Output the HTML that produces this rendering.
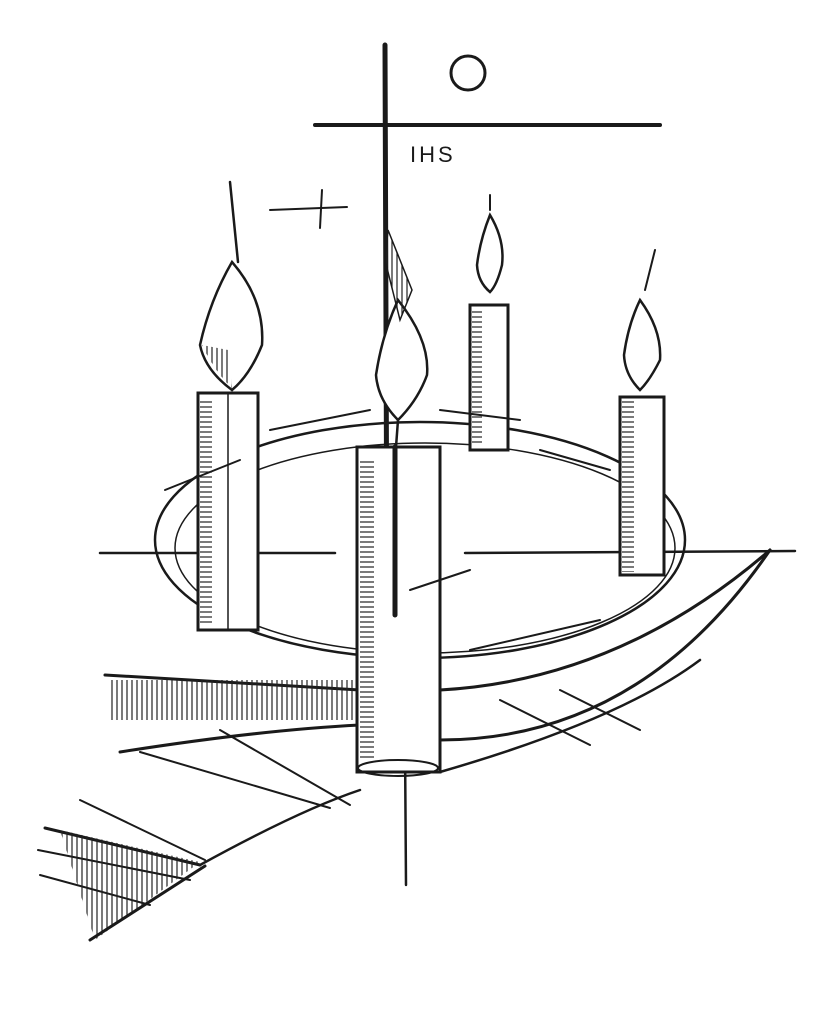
<!DOCTYPE html>
<html><head><meta charset="utf-8"><style>
html,body{margin:0;padding:0;background:#fff;}
svg{display:block}
</style></head><body>
<svg width="818" height="1023" viewBox="0 0 818 1023" xmlns="http://www.w3.org/2000/svg">
<defs>
<pattern id="h" width="5" height="5" patternUnits="userSpaceOnUse"><line x1="2" y1="0" x2="2" y2="5" stroke="#222" stroke-width="1.2"/></pattern>
<pattern id="hh" width="5" height="5" patternUnits="userSpaceOnUse"><line x1="0" y1="2" x2="5" y2="2" stroke="#222" stroke-width="1.2"/></pattern>
</defs>
<g fill="none" stroke="#1a1a1a" stroke-linecap="round">
<!-- cross -->
<line x1="385" y1="45" x2="387" y2="610" stroke-width="5"/>
<line x1="404" y1="600" x2="406" y2="885" stroke-width="2.5"/>
<line x1="315" y1="125" x2="660" y2="125" stroke-width="4"/>
<circle cx="468" cy="73" r="17" stroke-width="3"/>
<!-- star -->
<line x1="270" y1="210" x2="347" y2="207" stroke-width="2"/>
<line x1="322" y1="190" x2="320" y2="228" stroke-width="2"/>
<!-- ellipse ring -->
<ellipse cx="420" cy="540" rx="265" ry="118" stroke-width="2.5"/>
<ellipse cx="425" cy="548" rx="250" ry="105" stroke-width="1.5"/>
<!-- horizon -->
<line x1="100" y1="553" x2="335" y2="553" stroke-width="2.5"/>
<line x1="465" y1="553" x2="795" y2="551" stroke-width="2.5"/>
<!-- band -->
<path d="M105 675 L360 690" stroke-width="3"/>
<path d="M440 690 Q620 680 770 550" stroke-width="3"/>
<rect x="110" y="680" width="245" height="40" fill="url(#h)" stroke="none"/>
<path d="M120 752 Q260 730 360 725" stroke-width="3"/>
<path d="M440 740 Q640 740 770 550" stroke-width="3"/>
<path d="M200 865 Q300 810 360 790 M440 772 Q620 720 700 660" stroke-width="2.5"/>
<line x1="220" y1="730" x2="350" y2="805" stroke-width="2"/>
<line x1="500" y1="700" x2="590" y2="745" stroke-width="2"/>
<line x1="560" y1="690" x2="640" y2="730" stroke-width="2"/>
<line x1="140" y1="752" x2="330" y2="808" stroke-width="2"/>
<!-- bottom left strokes -->
<line x1="45" y1="828" x2="200" y2="865" stroke-width="3"/>
<line x1="38" y1="850" x2="190" y2="880" stroke-width="2"/>
<line x1="40" y1="875" x2="150" y2="905" stroke-width="2"/>
<line x1="80" y1="800" x2="205" y2="860" stroke-width="2"/>
<polygon points="60,830 200,862 95,940" fill="url(#h)" stroke="none"/>
<line x1="90" y1="940" x2="205" y2="866" stroke-width="3"/>
<!-- candle 1 -->
<rect x="198" y="393" width="60" height="237" fill="#fff" stroke-width="3"/>
<rect x="200" y="400" width="12" height="225" fill="url(#hh)" stroke="none"/>
<line x1="228" y1="393" x2="228" y2="630" stroke-width="1.5"/>
<path d="M232 262 Q265 300 262 345 Q250 375 232 390 Q205 370 200 345 Q210 300 232 262Z" fill="#fff" stroke-width="2.5"/>
<path d="M202 345 Q215 372 232 388 L228 350Z" fill="url(#h)" stroke="none"/>
<line x1="230" y1="182" x2="238" y2="262" stroke-width="2.5"/>
<!-- candle 4 -->
<rect x="620" y="397" width="44" height="178" fill="#fff" stroke-width="3"/>
<rect x="622" y="400" width="12" height="172" fill="url(#hh)" stroke="none"/>
<path d="M640 300 Q662 330 660 360 Q650 380 640 390 Q625 375 624 355 Q628 325 640 300Z" fill="#fff" stroke-width="2.5"/>
<line x1="655" y1="250" x2="645" y2="290" stroke-width="2"/>
<!-- candle 3 -->
<rect x="470" y="305" width="38" height="145" fill="#fff" stroke-width="3"/>
<rect x="472" y="310" width="10" height="135" fill="url(#hh)" stroke="none"/>
<path d="M490 215 Q505 240 502 265 Q497 285 490 292 Q478 282 477 265 Q480 240 490 215Z" fill="#fff" stroke-width="2.5"/>
<line x1="490" y1="195" x2="490" y2="210" stroke-width="2"/>
<!-- candle 2 center -->
<rect x="357" y="447" width="83" height="325" fill="#fff" stroke-width="3"/>
<rect x="360" y="460" width="14" height="300" fill="url(#hh)" stroke="none"/>
<ellipse cx="398" cy="768" rx="40" ry="8" stroke-width="2"/>
<line x1="395" y1="447" x2="395" y2="615" stroke-width="5"/>
<path d="M398 300 Q430 340 427 375 Q418 400 398 420 Q378 400 376 375 Q382 335 398 300Z" fill="#fff" stroke-width="2.5"/>
<path d="M388 230 L412 290 L400 320 L385 260Z" fill="url(#h)" stroke-width="1.5"/>
<line x1="398" y1="420" x2="396" y2="447" stroke-width="2.5"/>
<!-- ring strokes over candles -->
<line x1="165" y1="490" x2="240" y2="460" stroke-width="2"/>
<line x1="270" y1="430" x2="370" y2="410" stroke-width="2"/>
<line x1="440" y1="410" x2="520" y2="420" stroke-width="2"/>
<line x1="540" y1="450" x2="610" y2="470" stroke-width="2"/>
<line x1="410" y1="590" x2="470" y2="570" stroke-width="2"/>
<line x1="470" y1="650" x2="600" y2="620" stroke-width="2"/>
</g>
<text x="410" y="162" font-family="Liberation Sans, sans-serif" font-size="22" fill="#1a1a1a" letter-spacing="3">IHS</text>
</svg>
</body></html>
